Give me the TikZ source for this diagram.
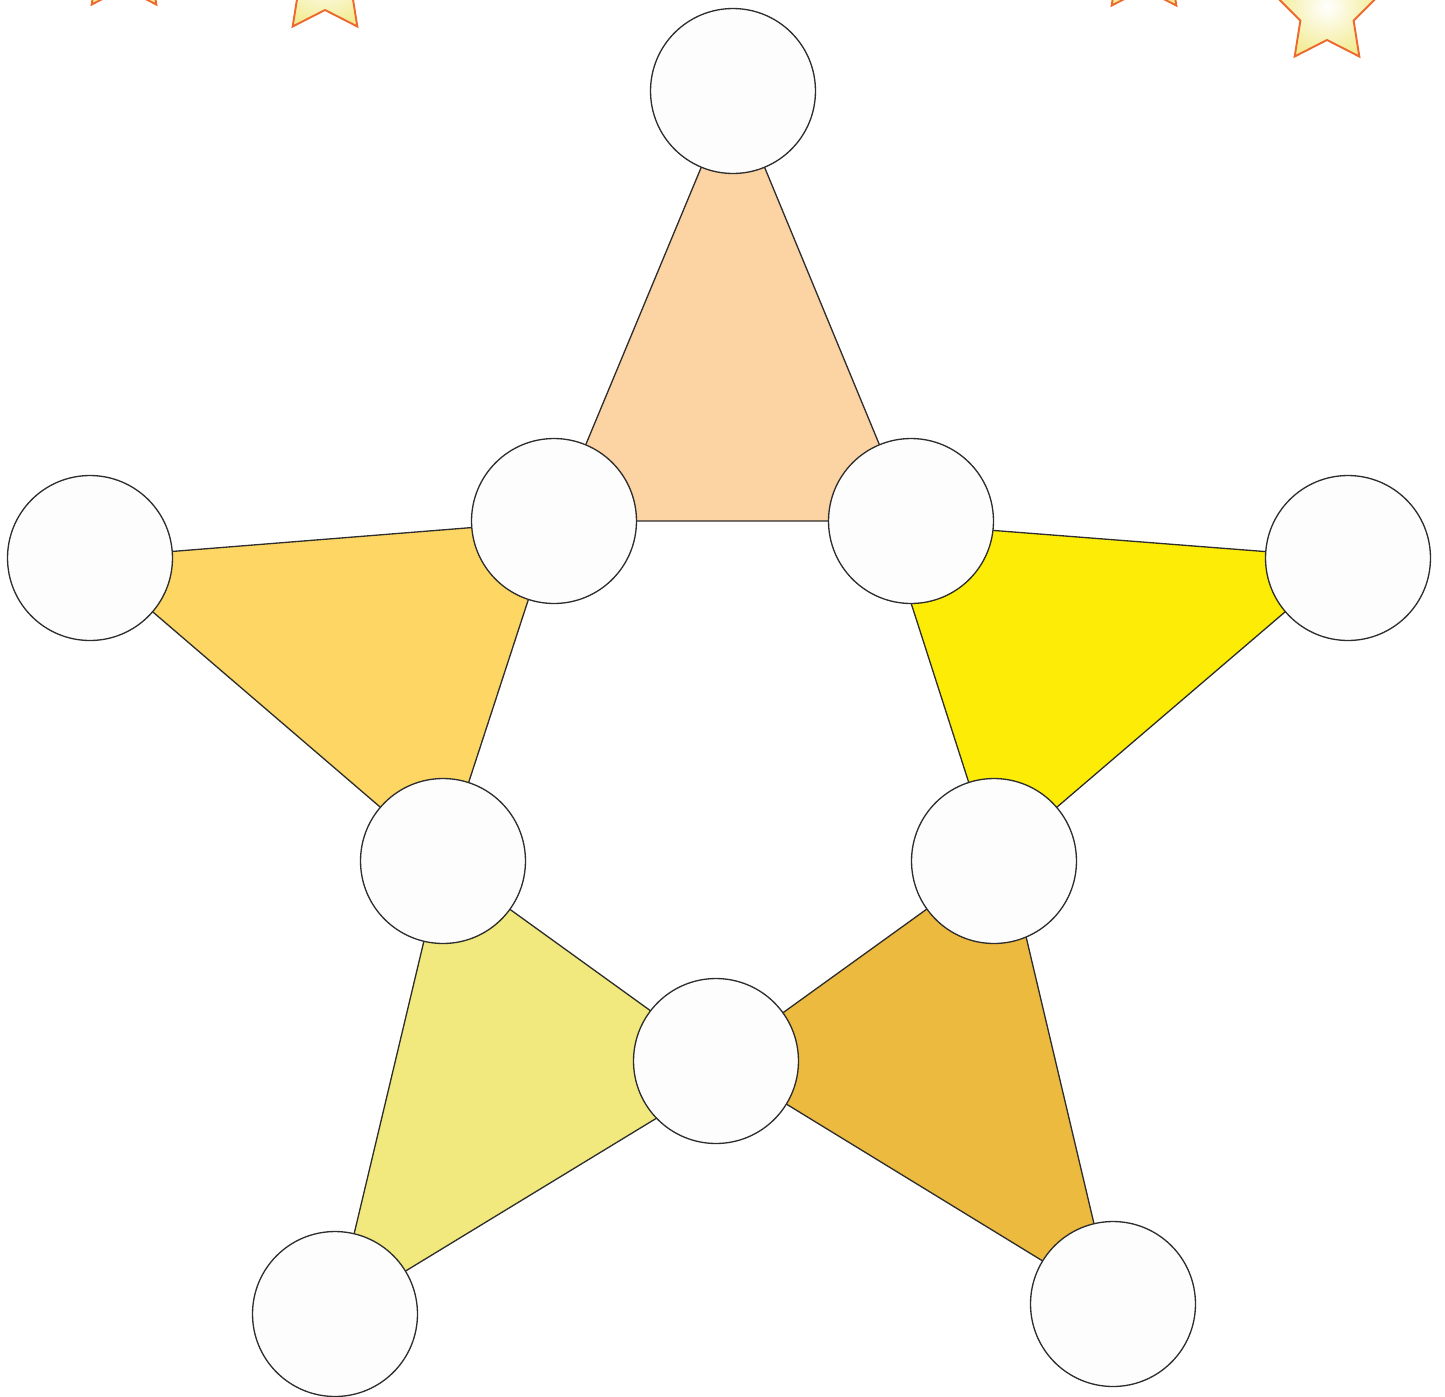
\documentclass[tikz,border=0pt]{standalone}
\usepackage{tikz}
\usetikzlibrary{backgrounds}
\definecolor{StTop}{HTML}{FCD3A3}
\definecolor{StLeft}{HTML}{FDD663}
\definecolor{StRight}{HTML}{FDEC06}
\definecolor{StLowL}{HTML}{F1E97D}
\definecolor{StLowR}{HTML}{ECBA3E}
\definecolor{StDot}{HTML}{FDFDFD}
\definecolor{StLine}{HTML}{2E2E2E}
\definecolor{StSpark}{HTML}{EC6A2E}
\definecolor{StGlow}{HTML}{F3EC95}

\begin{document}
\begin{tikzpicture}[x=0.02cm,y=-0.02cm,
    every node/.style={circle,draw=StLine,fill=StDot,line width=0.75pt,minimum size=3.3cm,inner sep=0pt},
    wing/.style={draw=StLine,line width=0.75pt},
    spark/.style={draw=StSpark,line width=1.1pt,inner color=white,outer color=StGlow}]
  \useasboundingbox (0,0) rectangle (1445,1397);
  \clip (0,0) rectangle (1445,1397);
  % outer points
  \node (top)  at (733,91)   {};
  \node (left) at (90,558)   {};
  \node (rght) at (1348,558) {};
  \node (botl) at (335,1314) {};
  \node (botr) at (1113,1304) {};
  % inner ring
  \node (iul) at (554,521)  {};
  \node (iur) at (911,521)  {};
  \node (ill) at (443,861)  {};
  \node (ilr) at (994,861)  {};
  \node (ibt) at (716,1061) {};
  % corners hidden under the circles
  \coordinate (rtip) at (885,522);
  \coordinate (bltip) at (734,1071);
  \coordinate (brtip) at (1006,852);
  \begin{pgfonlayer}{background}
    \filldraw[wing,fill=StTop]   (top.center) -- (iul.center) -- (iur.center) -- cycle;
    \filldraw[wing,fill=StLeft]  (left.center) -- (iul.center) -- (ill.center) -- cycle;
    \filldraw[wing,fill=StRight] (rtip) -- (rght.center) -- (ilr.center) -- cycle;
    \filldraw[wing,fill=StLowL]  (ill.center) -- (bltip) -- (botl.center) -- cycle;
    \filldraw[wing,fill=StLowR]  (ibt.center) -- (brtip) -- (botr.center) -- cycle;
  \end{pgfonlayer}
  % little stars along the top edge
  \foreach \sx/\sy in {124/-40,325/-18,1144/-39,1327/12}
    \shadedraw[spark] plot[samples at={0,...,9}]
      ({\sx+(55-27*mod(\x,2))*cos(-90+36*\x)},{\sy+(55-27*mod(\x,2))*sin(-90+36*\x)}) -- cycle;
\end{tikzpicture}
\end{document}
